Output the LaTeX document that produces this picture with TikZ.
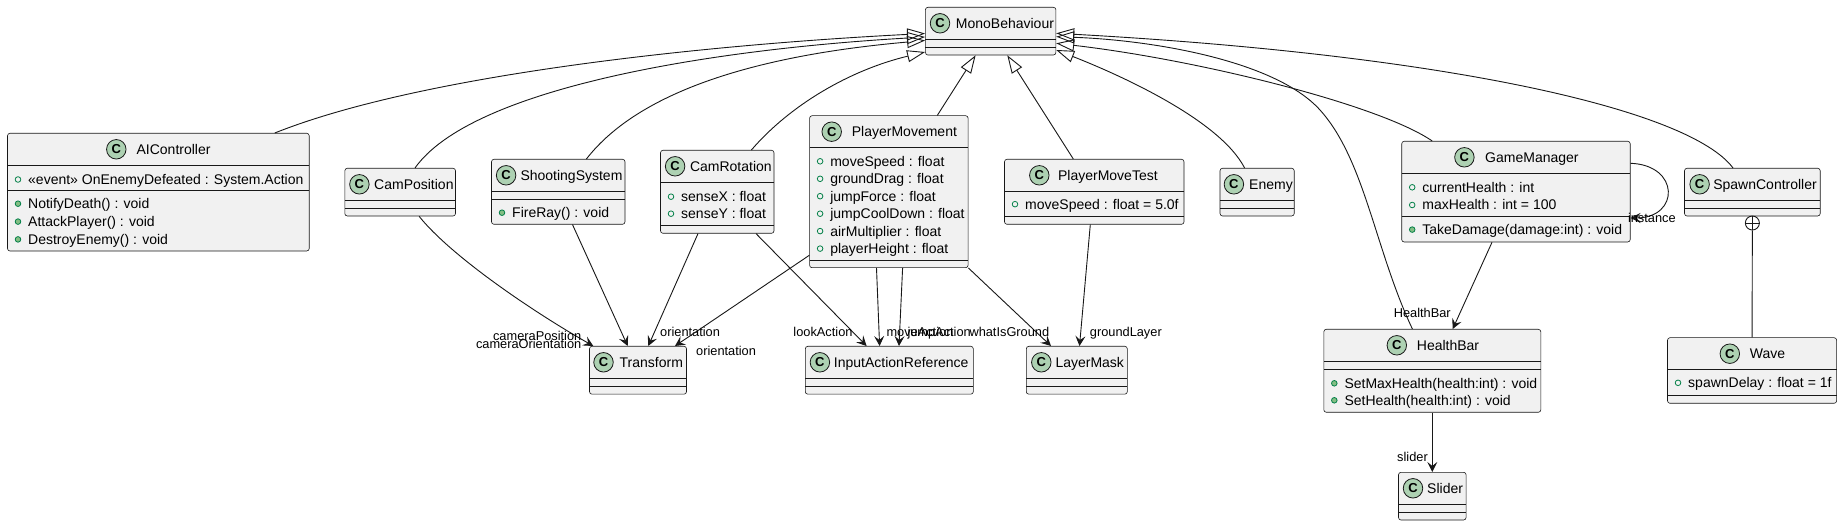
\documentclass[tikz,border=0pt]{standalone}
\usepackage{fontspec}
\setmainfont{Liberation Sans}
\usetikzlibrary{arrows.meta,fit}
\definecolor{boxfill}{HTML}{F1F1F1}
\definecolor{boxline}{HTML}{181818}
\definecolor{badgefill}{HTML}{ADD1B2}
\definecolor{visgreen}{HTML}{038048}
\definecolor{visfill}{HTML}{84BE84}
\tikzset{
  cls/.style={rectangle, draw=boxline, fill=boxfill, line width=0.6pt, rounded corners=2.5pt, inner sep=0pt},
  sepline/.style={draw=boxline, line width=0.6pt},
  badge/.style={circle, draw=boxline, fill=badgefill, line width=0.8pt, minimum size=19.5pt, inner sep=0pt, font=\fontsize{13}{13}\selectfont\bfseries},
  cname/.style={anchor=base west, inner sep=0pt, font=\fontsize{14}{16}\selectfont},
  memtext/.style={anchor=base west, inner sep=0pt, font=\fontsize{14}{16}\selectfont},
  lblE/.style={anchor=base east, inner sep=0pt, font=\fontsize{12.8}{14}\selectfont},
  lblW/.style={anchor=base west, inner sep=0pt, font=\fontsize{12.8}{14}\selectfont},
  fieldic/.style={draw=visgreen, line width=0.8pt, fill=none},
  methic/.style={draw=visgreen, fill=visfill, line width=0.8pt},
  inh/.style={draw=boxline, line width=0.9pt, -{Triangle[open, length=18pt, width=12pt]}},
  assoc/.style={draw=boxline, line width=0.9pt, -{Stealth[length=10pt, width=10pt, inset=4pt]}},
}
\newcommand\umlcls[8]{%
  \node[cls, fit={(#2,#3)(#4,#5)}] (#1) {};
  \node[badge] (#1-c) at (#6,#3+16) {C};
  \node[cname] (#1-t) at (#7,#3+21) {#8};
}
\newcommand\umlseps[4]{%
  \draw[sepline] (#1,#3) -- (#2,#3);
  \draw[sepline] (#1,#4) -- (#2,#4);
}
\newcommand\fieldrow[3]{%
  \draw[fieldic] (#1+10.5,#2) circle[radius=2.8];
  \node[memtext] at (#1+20.5,#2+5) {#3};
}
\newcommand\methrow[3]{%
  \draw[methic] (#1+10.5,#2) circle[radius=2.8];
  \node[memtext] at (#1+20.5,#2+5) {#3};
}
\begin{document}
\begin{tikzpicture}[x=1pt, y=-1pt]
\useasboundingbox (0,0) rectangle (1842,526);
\fill[white] (0,0) rectangle (1842,526);

% classes
\umlcls{mono}{925.4}{7.3}{1055.9}{55}{940}{955.7}{MonoBehaviour}
\umlseps{925.4}{1055.9}{39.3}{47}

\umlcls{aic}{7.5}{133.3}{309.2}{251}{116.3}{136.4}{AIController}
\umlseps{7.5}{309.2}{165.3}{190.3}
\fieldrow{7.5}{179.5}{«event» OnEnemyDefeated : System.Action}
\methrow{7.5}{203.7}{NotifyDeath() : void}
\methrow{7.5}{221.6}{AttackPlayer() : void}
\methrow{7.5}{239.4}{DestroyEnemy() : void}

\umlcls{campos}{344.8}{168.3}{455.5}{216}{359.4}{374}{CamPosition}
\umlseps{344.8}{455.5}{200.3}{208.3}

\umlcls{shoot}{491.5}{159.3}{625}{224.3}{506.1}{520.3}{ShootingSystem}
\umlseps{491.5}{625}{191}{199.3}
\methrow{491.5}{212.7}{FireRay() : void}

\umlcls{camrot}{660.5}{150.3}{774}{233.3}{675.1}{689.8}{CamRotation}
\umlseps{660.5}{774}{182.3}{225.3}
\fieldrow{660.5}{196.7}{senseX : float}
\fieldrow{660.5}{213.7}{senseY : float}

\umlcls{pmove}{809.6}{115.7}{968.1}{267.7}{831.7}{851.7}{PlayerMovement}
\umlseps{809.6}{968.1}{147}{260}
\fieldrow{809.6}{161.3}{moveSpeed : float}
\fieldrow{809.6}{178.8}{groundDrag : float}
\fieldrow{809.6}{196.2}{jumpForce : float}
\fieldrow{809.6}{213.7}{jumpCoolDown : float}
\fieldrow{809.6}{231.1}{airMultiplier : float}
\fieldrow{809.6}{248.6}{playerHeight : float}

\umlcls{ptest}{1004.5}{159.3}{1184}{224.3}{1039.3}{1057.9}{PlayerMoveTest}
\umlseps{1004.5}{1184}{191}{216}
\fieldrow{1004.5}{204.2}{moveSpeed : float = 5.0f}

\umlcls{enemy}{1220}{168.3}{1294.2}{216}{1233.9}{1249}{Enemy}
\umlseps{1220}{1294.2}{200.3}{208.3}

\umlcls{gm}{1401.7}{141.3}{1630.2}{242}{1464.4}{1485}{GameManager}
\umlseps{1401.7}{1630.2}{173.3}{216}
\fieldrow{1401.7}{187.3}{currentHealth : int}
\fieldrow{1401.7}{205}{maxHealth : int = 100}
\methrow{1401.7}{229.6}{TakeDamage(damage:int) : void}

\umlcls{spawn}{1684.5}{168.3}{1820.2}{216}{1699.6}{1713.1}{SpawnController}
\umlseps{1684.5}{1820.2}{200.3}{208.3}

\umlcls{transform}{589.5}{346.3}{686.5}{394.2}{603.5}{619.5}{Transform}
\umlseps{589.5}{686.5}{378.3}{386.2}

\umlcls{iar}{805.3}{346.3}{973.3}{394.2}{819.9}{833.7}{InputActionReference}
\umlseps{805.3}{973.3}{378.3}{386.2}

\umlcls{layer}{1026.3}{346.3}{1127.3}{394.2}{1041.3}{1055.3}{LayerMask}
\umlseps{1026.3}{1127.3}{378.3}{386.2}

\umlcls{hbar}{1323.8}{329.3}{1540.8}{412.3}{1396.8}{1416.7}{HealthBar}
\umlseps{1323.8}{1540.8}{361.3}{369}
\methrow{1323.8}{383.3}{SetMaxHealth(health:int) : void}
\methrow{1323.8}{400.3}{SetHealth(health:int) : void}

\umlcls{wave}{1667.5}{337.7}{1836.6}{403.3}{1729.8}{1749.7}{Wave}
\umlseps{1667.5}{1836.6}{369.7}{395}
\fieldrow{1667.5}{382.8}{spawnDelay : float = 1f}

\umlcls{slider}{1398.5}{472.3}{1466.1}{520}{1413}{1427}{Slider}
\umlseps{1398.5}{1466.1}{504.3}{512.3}

% inheritance
\draw[inh] ([xshift=116.45pt]aic.north) .. controls (420,75) and (700,45) .. ([yshift=-2.35pt]mono.west);
\draw[inh] ([xshift=14.85pt]campos.north) .. controls (470,90) and (700,50) .. ([yshift=-5.85pt]mono.west);
\draw[inh] ([xshift=28.15pt]shoot.north) .. controls (640,90) and (760,55) .. ([yshift=-9.35pt]mono.west);
\draw[inh] ([xshift=34.15pt]camrot.north) .. controls (790,105) and (850,70) .. ([yshift=3.3pt]mono.south west);
\draw[inh] ([xshift=48.45pt]pmove.north) -- ([xshift=-15.05pt]mono.south);
\draw[inh] ([xshift=-20.95pt]ptest.north) -- ([xshift=16.65pt]mono.south);
\draw[inh] ([xshift=-12.5pt]enemy.north) .. controls (1220,120) and (1120,75) .. ([yshift=-18.85pt]mono.east);
\draw[inh] ([xshift=-83.75pt]gm.north) .. controls (1380,105) and (1200,60) .. ([yshift=-12.15pt]mono.east);
\draw[inh] ([xshift=-19.35pt]spawn.north) .. controls (1690,110) and (1450,55) .. ([yshift=-2.15pt]mono.east);
\draw[inh] ([xshift=-19.9pt]hbar.north) .. controls (1375,250) and (1365,160) .. (1320,110) .. controls (1275,60) and (1150,40) .. ([yshift=-5.55pt]mono.east);

% associations
\draw[assoc] ([xshift=18.95pt]campos.south) .. controls (450,255) and (530,310) .. ([xshift=-44.7pt]transform.north);
\node[lblE] (l-campos) at (581.5,340.6) {cameraPosition};
\node[lblE] (l-camori) at (581.5,348.9) {cameraOrientation};
\draw[assoc] ([xshift=14.25pt]shoot.south) -- ([xshift=-10.3pt]transform.north);
\draw[assoc] ([xshift=-19.25pt]camrot.south) -- ([xshift=10.3pt]transform.north);
\node[lblW] (l-ori1) at (660,336.3) {orientation};
\draw[assoc] ([yshift=12.7pt]pmove.south west) -- ([xshift=37pt]transform.north);
\node[lblW] (l-ori2) at (696,355.3) {orientation};
\draw[assoc] ([xshift=38.75pt]camrot.south) -- ([xshift=-22.7pt]iar.north);
\node[lblE] (l-look) at (852.7,336.3) {lookAction};
\draw[assoc] ([xshift=-12.35pt]pmove.south) -- ([xshift=-9.7pt]iar.north);
\node[lblW] (l-move) at (886.3,336.3) {moveAction};
\draw[assoc] ([xshift=13.75pt]pmove.south) -- ([xshift=9.7pt]iar.north);
\node[lblW] (l-jump) at (907.3,336.3) {jumpAction};
\draw[assoc] (pmove.south east) -- ([xshift=-25.8pt]layer.north);
\node[lblE] (l-what) at (1049.4,336.3) {whatIsGround};
\draw[assoc] ([xshift=-3.95pt]ptest.south) -- ([xshift=2.7pt]layer.north);
\node[lblW] (l-glayer) at (1089.7,336.3) {groundLayer};
\draw[assoc] ([xshift=-23.95pt]gm.south) -- ([xshift=20.4pt]hbar.north);
\node[lblW] (l-hbar) at (1393.6,317.9) {HealthBar};
\draw[assoc] ([yshift=28.35pt]gm.east) .. controls (1680,165) and (1680,218) .. ([yshift=-26.35pt]gm.east);
\node[lblW] (l-inst) at (1627.8,222.6) {instance};
\draw[assoc] (hbar.south) -- (slider.north);
\node[lblE] (l-slider) at (1428,461.3) {slider};

% nested class
\node[circle, draw=boxline, line width=0.9pt, minimum size=14pt, inner sep=0pt] (nest) at (1752.35,223) {};
\draw[boxline, line width=0.9pt] (nest.north) -- (nest.south);
\draw[boxline, line width=0.9pt] (nest.west) -- (nest.east);
\draw[boxline, line width=0.9pt] (nest.south) -- (wave.north);
\end{tikzpicture}
\end{document}
